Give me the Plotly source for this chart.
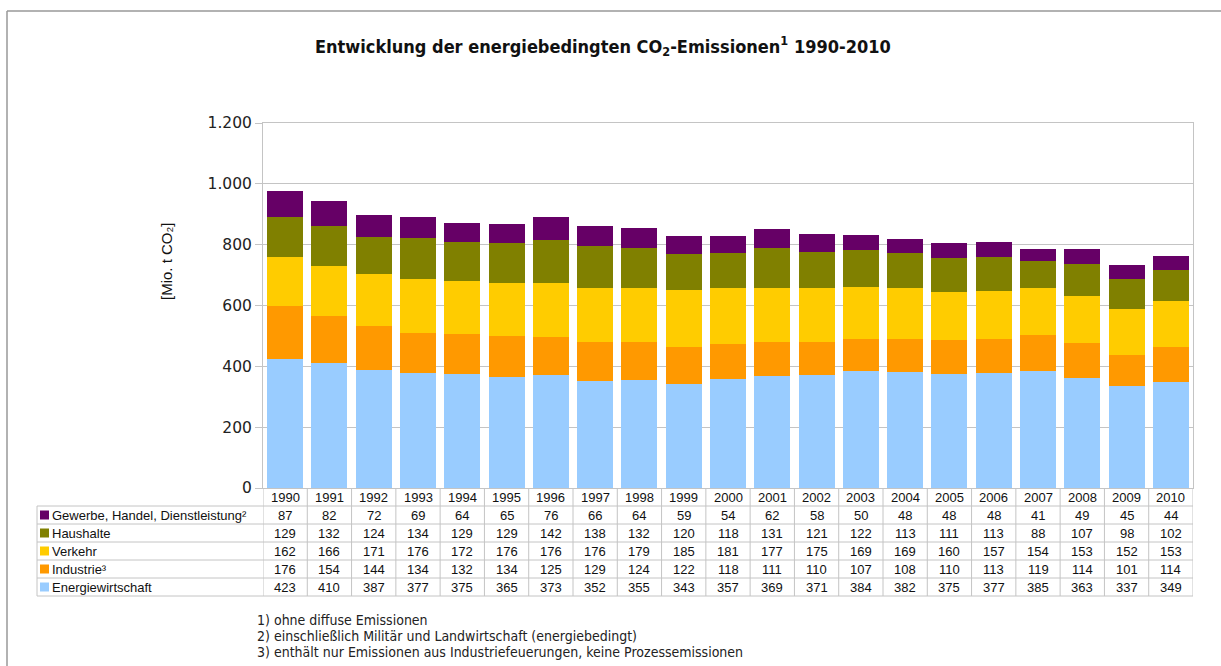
import plotly.graph_objects as go

years = list(range(1990, 2011))
energiewirtschaft = [423, 410, 387, 377, 375, 365, 373, 352, 355, 343, 357, 369, 371, 384, 382, 375, 377, 385, 363, 337, 349]
industrie = [176, 154, 144, 134, 132, 134, 125, 129, 124, 122, 118, 111, 110, 107, 108, 110, 113, 119, 114, 101, 114]
verkehr = [162, 166, 171, 176, 172, 176, 176, 176, 179, 185, 181, 177, 175, 169, 169, 160, 157, 154, 153, 152, 153]
haushalte = [129, 132, 124, 134, 129, 129, 142, 138, 132, 120, 118, 131, 121, 122, 113, 111, 113, 88, 107, 98, 102]
gewerbe = [87, 82, 72, 69, 64, 65, 76, 66, 64, 59, 54, 62, 58, 50, 48, 48, 48, 41, 49, 45, 44]

series = [
    ("Energiewirtschaft", energiewirtschaft, "#99CCFF"),
    ("Industrie³", industrie, "#FF9900"),
    ("Verkehr", verkehr, "#FFCC00"),
    ("Haushalte", haushalte, "#808000"),
    ("Gewerbe, Handel, Dienstleistung²", gewerbe, "#660066"),
]
table_order = [4, 3, 2, 1, 0]  # top-to-bottom rows in table

W, H = 1221, 666
L, R, T, B = 263, 28, 123, 178
PW = W - L - R
PH = H - T - B

def py(y):  # pixel y -> paper y
    return (H - B - y) / PH

def px(x):  # pixel x -> paper x
    return (x - L) / PW

fig = go.Figure()
for name, vals, col in series:
    fig.add_trace(go.Bar(x=years, y=vals, name=name, marker=dict(color=col, line=dict(width=0)),
                         showlegend=False))

shapes = []
annotations = []
grid = "#C4C4C4"

# outer frame lines (top and left)
shapes.append(dict(type="line", xref="paper", yref="paper", x0=px(7), x1=px(W), y0=py(11), y1=py(11),
                   line=dict(color="#999999", width=1.5)))
shapes.append(dict(type="line", xref="paper", yref="paper", x0=px(7), x1=px(7), y0=py(11), y1=py(H),
                   line=dict(color="#999999", width=1.5)))

# table geometry
row_top = 506
row_h = 18
header_top = 488
x_left = 37
shapes.append(dict(type="line", xref="paper", yref="paper", x0=px(x_left), x1=1, y0=py(row_top), y1=py(row_top),
                   line=dict(color=grid, width=1)))
for r in range(1, 6):
    yy = row_top + r * row_h
    shapes.append(dict(type="line", xref="paper", yref="paper", x0=px(x_left), x1=1, y0=py(yy), y1=py(yy),
                       line=dict(color=grid, width=1)))
shapes.append(dict(type="line", xref="paper", yref="paper", x0=px(x_left), x1=px(x_left),
                   y0=py(row_top), y1=py(row_top + 5 * row_h), line=dict(color=grid, width=1)))
for k in range(len(years) + 1):
    xv = years[0] - 0.5 + k
    shapes.append(dict(type="line", xref="x", yref="paper", x0=xv, x1=xv,
                       y0=py(header_top), y1=py(row_top + 5 * row_h), line=dict(color=grid, width=1)))

tfont = dict(family="Liberation Sans, Arial, sans-serif", size=13, color="#111111")
for yr in years:
    annotations.append(dict(x=yr, y=py(header_top + 9.5), xref="x", yref="paper", text=str(yr),
                            showarrow=False, font=tfont, xanchor="center", yanchor="middle"))
for r, si in enumerate(table_order):
    name, vals, col = series[si]
    cy = row_top + r * row_h + row_h / 2
    shapes.append(dict(type="rect", xref="paper", yref="paper", x0=px(40), x1=px(49),
                       y0=py(cy + 4.5), y1=py(cy - 4.5), fillcolor=col, line=dict(width=0)))
    annotations.append(dict(x=px(50), y=py(cy + 0.5), xref="paper", yref="paper", text=name,
                            showarrow=False, font=tfont, xanchor="left", yanchor="middle"))
    for yr, v in zip(years, vals):
        annotations.append(dict(x=yr, y=py(cy + 0.5), xref="x", yref="paper", text=str(v),
                                showarrow=False, font=tfont, xanchor="center", yanchor="middle"))

fnotes = ["1) ohne diffuse Emissionen",
          "2) einschließlich Militär und Landwirtschaft (energiebedingt)",
          "3) enthält nur Emissionen aus Industriefeuerungen, keine Prozessemissionen"]
for i, t in enumerate(fnotes):
    annotations.append(dict(x=px(255), y=py(620 + 16 * i), xref="paper", yref="paper", text=t,
                            showarrow=False, xanchor="left", yanchor="middle",
                            font=dict(family="DejaVu Sans Condensed, sans-serif", size=14, color="#222222")))

annotations.append(dict(x=px(603), y=py(46), xref="paper", yref="paper",
                        text="<b>Entwicklung der energiebedingten CO<sub>2</sub>-Emissionen<sup>1</sup> 1990-2010</b>",
                        showarrow=False, xanchor="center", yanchor="middle",
                        font=dict(family="DejaVu Sans Condensed, sans-serif", size=18, color="#111111")))

annotations.append(dict(x=px(166), y=py(261), xref="paper", yref="paper", text="[Mio. t CO₂]",
                        showarrow=False, textangle=-90, xanchor="center", yanchor="middle",
                        font=dict(family="Liberation Sans, Arial, sans-serif", size=15, color="#111111")))

fig.update_layout(
    width=W, height=H,
    margin=dict(l=L, r=R, t=T, b=B, autoexpand=False),
    barmode="stack", bargap=0.19,
    plot_bgcolor="white", paper_bgcolor="white",
    separators=",.",
    shapes=shapes, annotations=annotations,
    xaxis=dict(range=[years[0] - 0.5, years[-1] + 0.5], showticklabels=False, showgrid=False,
               zeroline=False, showline=True, linecolor=grid, mirror=True, ticks=""),
    yaxis=dict(range=[0, 1200], dtick=200, tickformat=",d", showgrid=True, gridcolor=grid,
               zeroline=False, showline=True, linecolor=grid, mirror=True, ticks="outside",
               ticklen=7, tickcolor=grid,
               tickfont=dict(family="DejaVu Sans, sans-serif", size=15.5, color="#222222")),
)

fig.write_html("out.html", config={"displayModeBar": False},
               post_script="document.body.style.margin='0';")
